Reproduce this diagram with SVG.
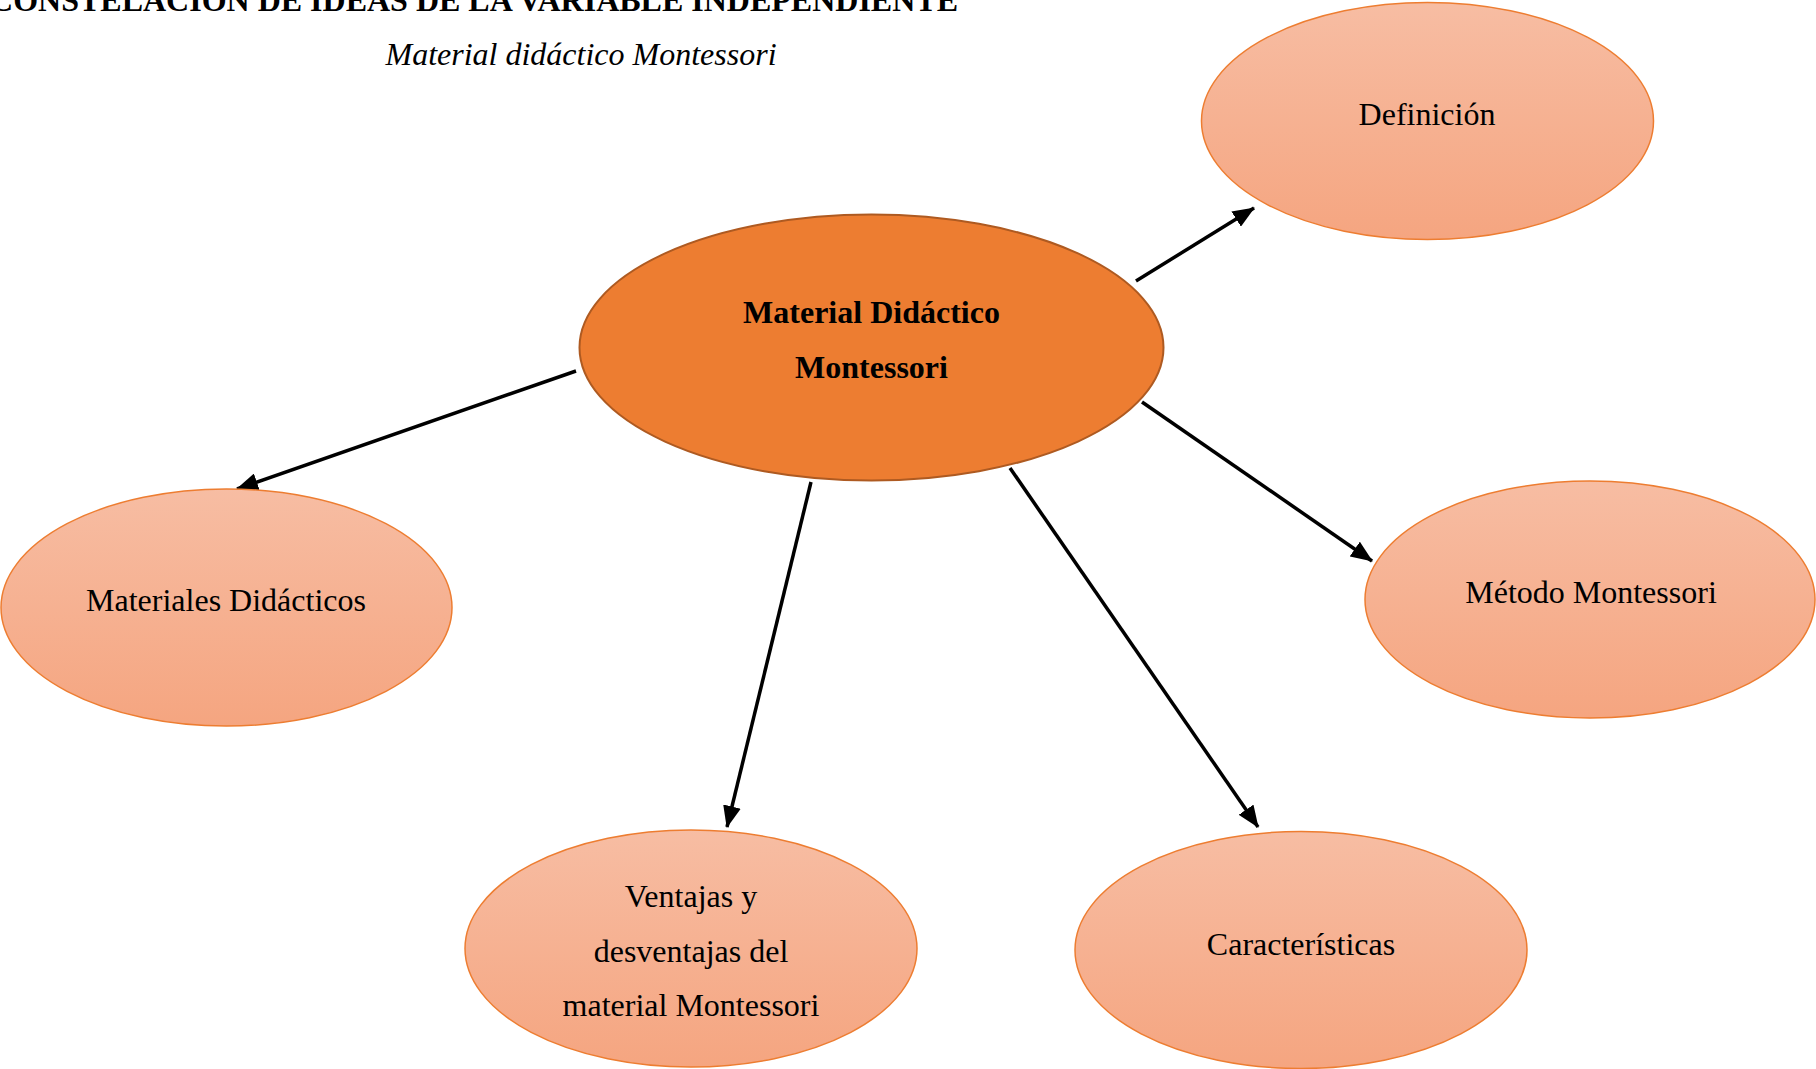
<svg xmlns="http://www.w3.org/2000/svg" width="1816" height="1069" viewBox="0 0 1816 1069">
<style>
.t{font-family:"Liberation Serif","Times New Roman",serif;fill:#000;text-anchor:middle}
.r{font-size:32px}
.b{font-size:32px;font-weight:bold}
.leaf{fill:url(#g);stroke:#ED7D31;stroke-width:1.5}
.con{stroke:#000;stroke-width:3.5;fill:none;marker-end:url(#ah)}
</style>
<defs>
<linearGradient id="g" x1="0" y1="0" x2="0" y2="1">
<stop offset="0" stop-color="#F7BDA3"/>
<stop offset="1" stop-color="#F5A580"/>
</linearGradient>
<marker id="ah" markerUnits="userSpaceOnUse" markerWidth="22" markerHeight="18" viewBox="0 0 22 18" refX="21" refY="9" orient="auto">
<path d="M0,0 L22,9 L0,18 z" fill="#000"/>
</marker>
</defs>
<rect width="1816" height="1069" fill="#fff"/>
<text class="t b" x="474" y="11">CONSTELACIÓN DE IDEAS DE LA VARIABLE INDEPENDIENTE</text>
<text class="t r" x="581" y="65" font-style="italic">Material didáctico Montessori</text>
<g id="connectors">
<line class="con" x1="1136" y1="281" x2="1254" y2="208"/>
<line class="con" x1="576" y1="371" x2="237" y2="489"/>
<line class="con" x1="1142" y1="402" x2="1372" y2="561"/>
<line class="con" x1="811" y1="482" x2="727" y2="827"/>
<line class="con" x1="1010" y1="468" x2="1258" y2="827"/>
</g>
<g id="center">
<ellipse cx="871.5" cy="347.5" rx="292" ry="133" fill="#ED7D31" stroke="#AE5A21" stroke-width="2"/>
<text class="t b" x="871.5" y="323">Material Didáctico</text>
<text class="t b" x="871.5" y="377.5">Montessori</text>
</g>
<g id="definicion">
<ellipse class="leaf" cx="1427.5" cy="121" rx="226" ry="118.5"/>
<text class="t r" x="1427" y="125">Definición</text>
</g>
<g id="materiales">
<ellipse class="leaf" cx="226.5" cy="607.5" rx="225.5" ry="118.5"/>
<text class="t r" x="226" y="611">Materiales Didácticos</text>
</g>
<g id="metodo">
<ellipse class="leaf" cx="1590" cy="599.5" rx="225" ry="118.5"/>
<text class="t r" x="1591" y="603">Método Montessori</text>
</g>
<g id="ventajas">
<ellipse class="leaf" cx="691" cy="948.5" rx="226" ry="118.5"/>
<text class="t r" x="691" y="907">Ventajas y</text>
<text class="t r" x="691" y="961.5">desventajas del</text>
<text class="t r" x="691" y="1016">material Montessori</text>
</g>
<g id="caracteristicas">
<ellipse class="leaf" cx="1301" cy="950" rx="226" ry="118.5"/>
<text class="t r" x="1301" y="955">Características</text>
</g>
</svg>
